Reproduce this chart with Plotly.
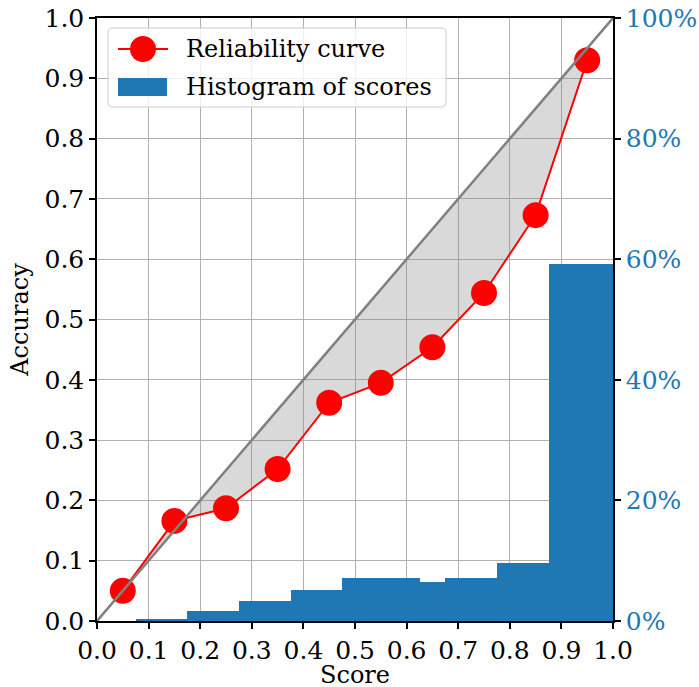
import plotly.graph_objects as go

# ---- data ----
score_centers = [0.05, 0.15, 0.25, 0.35, 0.45, 0.55, 0.65, 0.75, 0.85, 0.95]
accuracy = [0.050, 0.166, 0.187, 0.252, 0.362, 0.395, 0.454, 0.544, 0.673, 0.930]

hist_edges = [0.075, 0.175, 0.275, 0.375, 0.475, 0.625, 0.675, 0.775, 0.875, 1.0]
hist_pct = [0.25, 1.6, 3.3, 5.2, 7.2, 6.4, 7.2, 9.6, 59.2]

axis_ticks = [0.0, 0.1, 0.2, 0.3, 0.4, 0.5, 0.6, 0.7, 0.8, 0.9, 1.0]
pct_ticks = [0, 20, 40, 60, 80, 100]

legend_labels = ["Reliability curve", "Histogram of scores"]
x_title = "Score"
y_title = "Accuracy"

hist_centers = [(a + b) / 2 for a, b in zip(hist_edges[:-1], hist_edges[1:])]
hist_widths = [b - a for a, b in zip(hist_edges[:-1], hist_edges[1:])]

SERIF = "DejaVu Serif"
BLUE = "#1f77b4"
FS = 24
TFS = 25

W, H = 699, 687
ML, MR, MT, MB = 97, 86, 18, 66
PW, PH = W - ML - MR, H - MT - MB


def px(x):  # x pixel (reference picture) -> paper
    return (x - ML) / PW


def py(y):  # y pixel (reference picture) -> paper
    return (H - MB - y) / PH


fig = go.Figure()

# invisible base for the shaded region (diagonal at the same x)
fig.add_trace(go.Scatter(x=score_centers, y=score_centers, mode="lines",
                         line=dict(width=0, color="rgba(0,0,0,0)"),
                         showlegend=False, hoverinfo="skip"))
# reliability curve with fill to the diagonal
fig.add_trace(go.Scatter(x=score_centers, y=accuracy, mode="lines+markers",
                         name=legend_labels[0], showlegend=False,
                         line=dict(color="red", width=2),
                         marker=dict(color="red", size=26),
                         fill="tonexty", fillcolor="rgba(128,128,128,0.3)"))
# diagonal
fig.add_trace(go.Scatter(x=[0, 1], y=[0, 1], mode="lines",
                         line=dict(color="#808080", width=2.5),
                         showlegend=False, hoverinfo="skip"))
# histogram on secondary axis
fig.add_trace(go.Bar(x=hist_centers, y=hist_pct, width=hist_widths,
                     name=legend_labels[1], showlegend=False,
                     marker=dict(color=BLUE, line=dict(width=0)),
                     yaxis="y2"))

axis_common = dict(showline=True, linecolor="black", linewidth=1.5,
                   ticks="outside", ticklen=6, tickwidth=1.5, tickcolor="black",
                   zeroline=False, automargin=False)

# ---- legend drawn as a box (matplotlib-style) ----
bx0, bx1, by0, by1 = px(108), px(446), py(107), py(28)
rx, ry = 5 / PW, 5 / PH
box_path = (f"M {bx0+rx},{by0} L {bx1-rx},{by0} Q {bx1},{by0} {bx1},{by0+ry} "
            f"L {bx1},{by1-ry} Q {bx1},{by1} {bx1-rx},{by1} "
            f"L {bx0+rx},{by1} Q {bx0},{by1} {bx0},{by1-ry} "
            f"L {bx0},{by0+ry} Q {bx0},{by0} {bx0+rx},{by0} Z")
shapes = [
    dict(type="path", path=box_path, xref="paper", yref="paper",
         fillcolor="rgba(255,255,255,0.8)", line=dict(color="#cccccc", width=1), layer="above"),
    dict(type="line", x0=px(118), x1=px(168), y0=py(49), y1=py(49), xref="paper", yref="paper",
         line=dict(color="red", width=2), layer="above"),
    dict(type="circle", x0=px(130), x1=px(156), y0=py(62), y1=py(36), xref="paper", yref="paper",
         fillcolor="red", line=dict(width=0), layer="above"),
    dict(type="rect", x0=px(118), x1=px(167), y0=py(96), y1=py(78), xref="paper", yref="paper",
         fillcolor=BLUE, line=dict(width=0), layer="above"),
]
annotations = [
    dict(text=legend_labels[0], x=px(184), y=py(49), xref="paper", yref="paper",
         xanchor="left", yanchor="middle", showarrow=False,
         font=dict(family=SERIF, size=FS, color="black")),
    dict(text=legend_labels[1], x=px(184), y=py(87), xref="paper", yref="paper",
         xanchor="left", yanchor="middle", showarrow=False,
         font=dict(family=SERIF, size=FS, color="black")),
    # x-axis title placed below the tick labels
    dict(text=x_title, x=0.5, y=py(675), xref="paper", yref="paper",
         xanchor="center", yanchor="middle", showarrow=False,
         font=dict(family=SERIF, size=FS, color="black")),
]

fig.update_layout(
    width=W, height=H,
    margin=dict(l=ML, r=MR, t=MT, b=MB, autoexpand=False),
    paper_bgcolor="white", plot_bgcolor="white",
    font=dict(family=SERIF, size=FS, color="black"),
    bargap=0, showlegend=False,
    shapes=shapes, annotations=annotations,
    xaxis=dict(range=[0, 1], tickvals=axis_ticks, ticktext=[f"{v:.1f}" for v in axis_ticks],
               tickfont=dict(family=SERIF, size=TFS, color="black"),
               showgrid=True, gridcolor="#b0b0b0", gridwidth=1.2, mirror=True,
               **axis_common),
    yaxis=dict(range=[0, 1], tickvals=axis_ticks, ticktext=[f"{v:.1f}" for v in axis_ticks],
               tickfont=dict(family=SERIF, size=TFS, color="black"),
               showgrid=True, gridcolor="#b0b0b0", gridwidth=1.2, mirror=True,
               title=dict(text=y_title, font=dict(family=SERIF, size=FS), standoff=9),
               **axis_common),
    yaxis2=dict(range=[0, 100], overlaying="y", side="right",
                tickvals=pct_ticks, ticktext=[f"{v}%" for v in pct_ticks],
                tickfont=dict(family=SERIF, size=TFS, color=BLUE),
                showgrid=False, **axis_common),
)

# remove the browser's default 8px page margin so the figure sits at the window corner
fig.write_html("out.html", config={"displayModeBar": False},
               post_script="document.body.style.margin='0';")
